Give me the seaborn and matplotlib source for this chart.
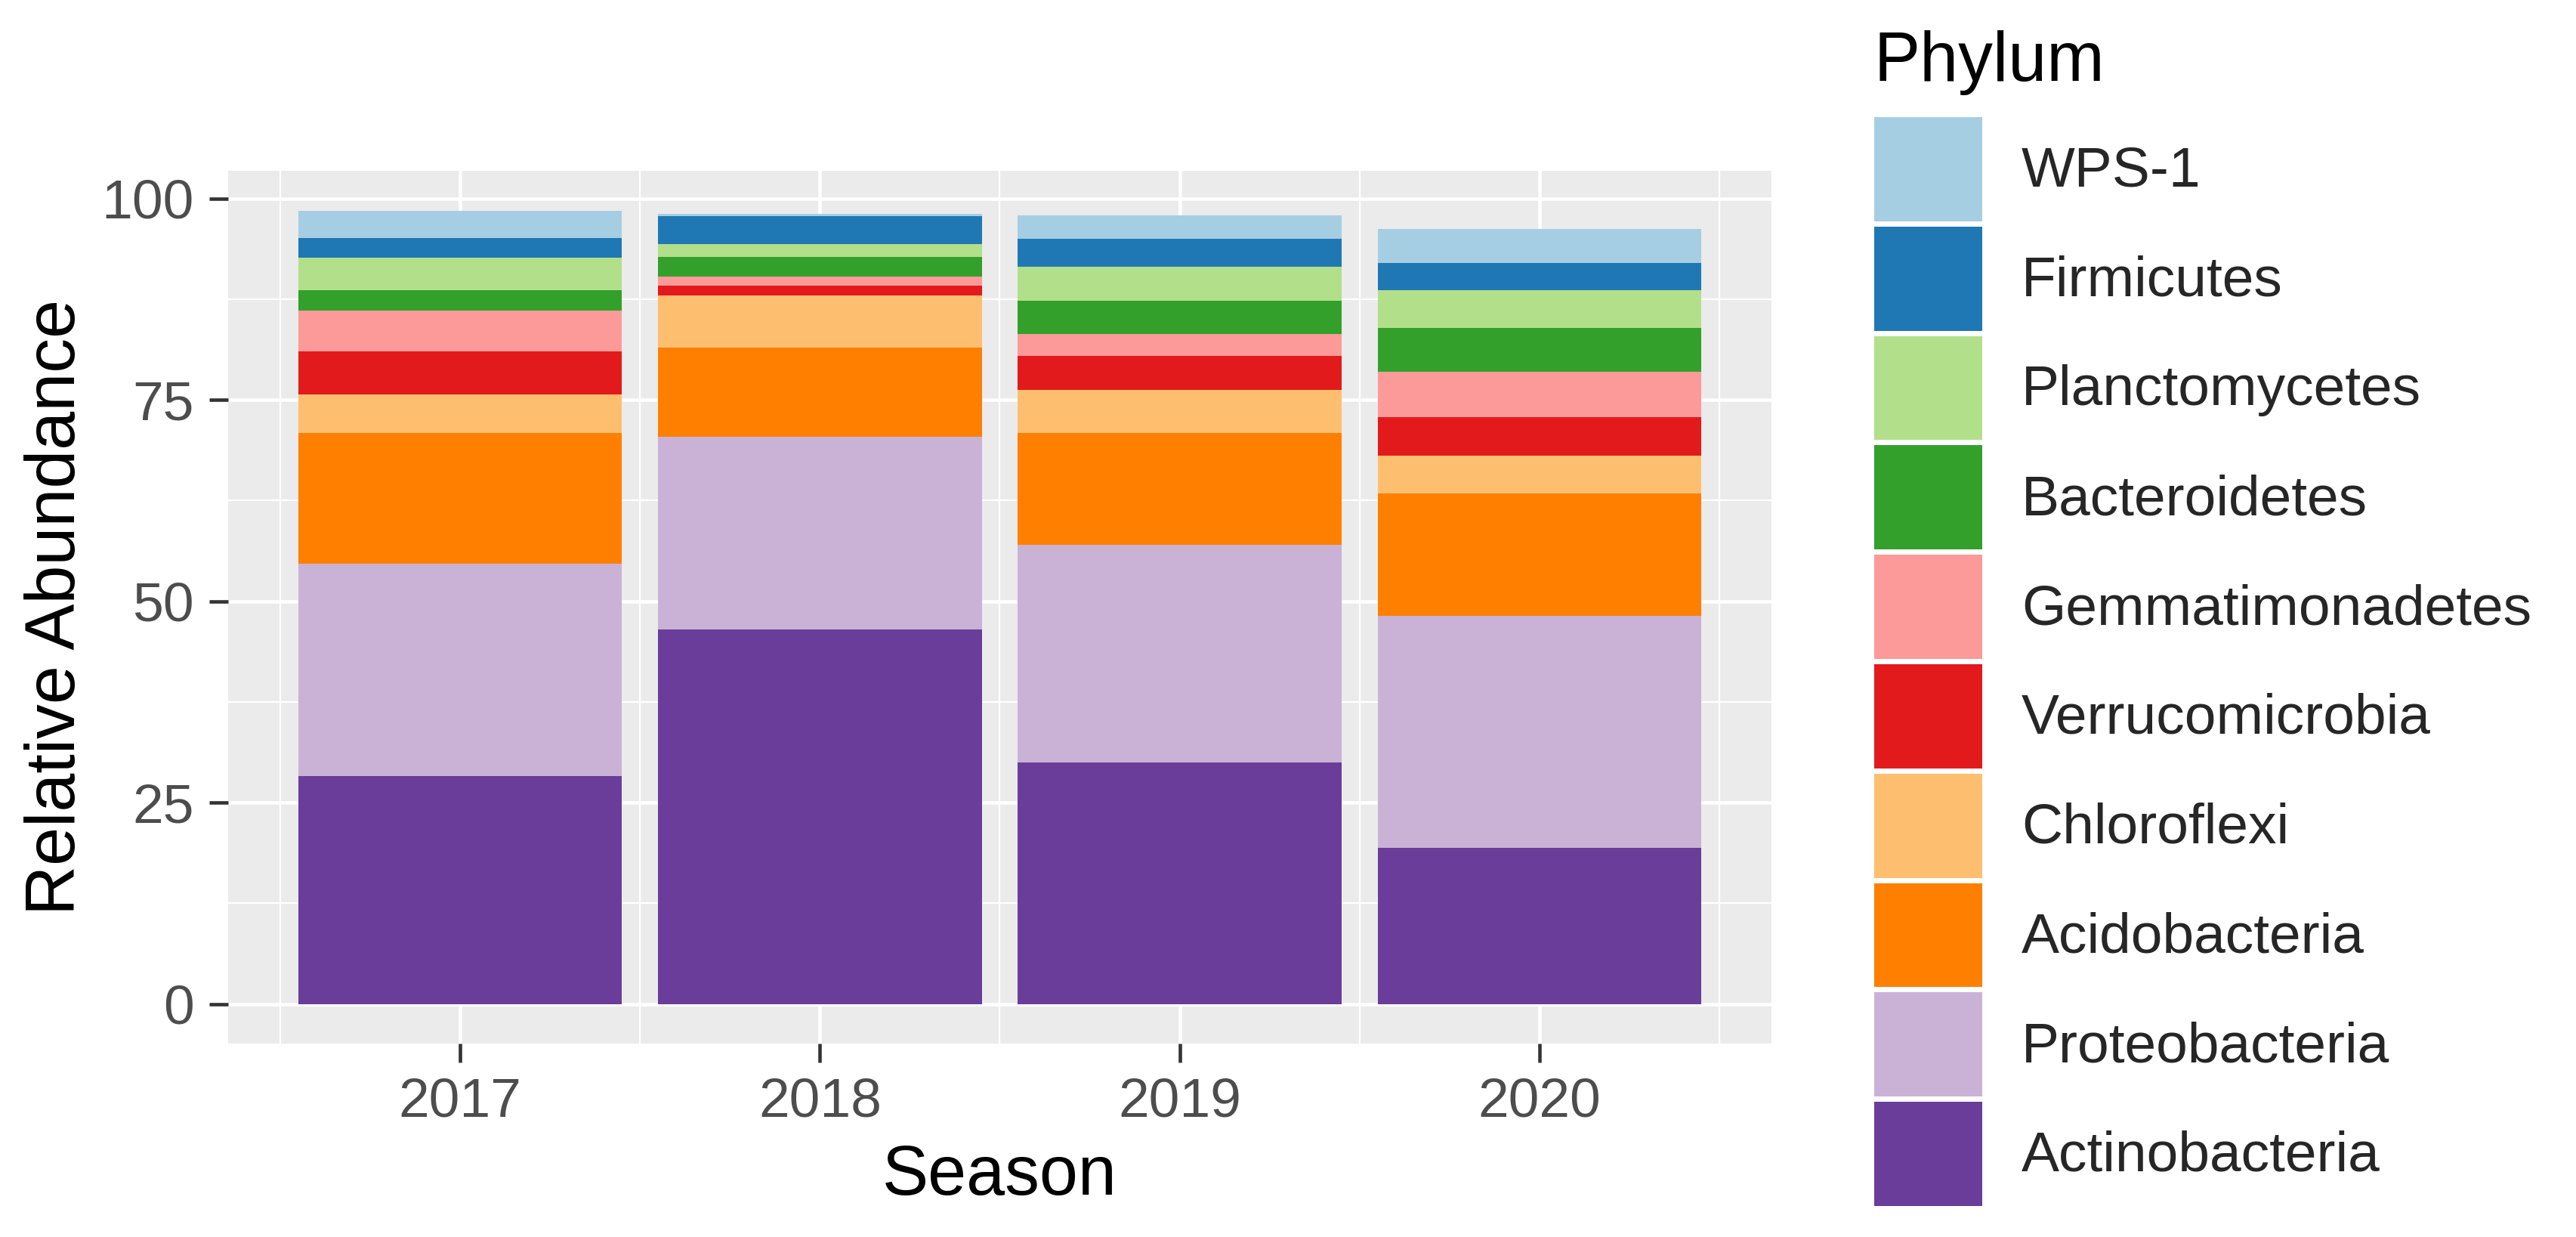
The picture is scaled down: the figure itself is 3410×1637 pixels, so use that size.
import numpy as np
import pandas as pd
import matplotlib
matplotlib.use("Agg")
import matplotlib.pyplot as plt
import seaborn as sns
from matplotlib.patches import Patch
from matplotlib.ticker import FixedLocator

sns.set_theme(style="white")
plt.rcParams["font.family"] = ["Liberation Sans", "DejaVu Sans"]

# data (relative abundance, %)
seasons = ["2017", "2018", "2019", "2020"]

actinobacteria = [28.3, 46.5, 30.0, 19.4]
proteobacteria = [26.3, 23.9, 27.0, 28.8]
acidobacteria = [16.3, 11.1, 13.9, 15.2]
chloroflexi = [4.8, 6.4, 5.3, 4.7]
verrucomicrobia = [5.3, 1.3, 4.2, 4.7]
gemmatimonadetes = [5.1, 1.1, 2.8, 5.7]
bacteroidetes = [2.5, 2.4, 4.1, 5.4]
planctomycetes = [4.0, 1.6, 4.2, 4.7]
firmicutes = [2.5, 3.5, 3.5, 3.4]
wps1 = [3.4, 0.3, 2.9, 4.2]

# bottom -> top of each stack
phyla = ["Actinobacteria", "Proteobacteria", "Acidobacteria", "Chloroflexi",
         "Verrucomicrobia", "Gemmatimonadetes", "Bacteroidetes",
         "Planctomycetes", "Firmicutes", "WPS-1"]
values = [actinobacteria, proteobacteria, acidobacteria, chloroflexi,
          verrucomicrobia, gemmatimonadetes, bacteroidetes, planctomycetes,
          firmicutes, wps1]
colors = ["#6A3D9A", "#CAB2D6", "#FF7F00", "#FDBF6F", "#E31A1C",
          "#FB9A99", "#33A02C", "#B2DF8A", "#1F78B4", "#A6CEE3"]

df = pd.DataFrame({
    "Season": np.tile(seasons, len(phyla)),
    "Phylum": np.repeat(phyla, len(seasons)),
    "Abundance": np.concatenate(values),
})

W, H = 3411, 1637
fig = plt.figure(figsize=(W / 300, H / 300), dpi=300)
ax = fig.add_axes([302 / W, 1 - 1381 / H, (2345 - 302) / W, (1381 - 226) / H])
ax.set_facecolor("#EBEBEB")

# stacked bars, one barplot call per phylum
bottom = np.zeros(len(seasons))
for name, col in zip(phyla, colors):
    sub = df[df["Phylum"] == name]
    sns.barplot(data=sub, x="Season", y="Abundance", order=seasons,
                color=col, saturation=1, width=0.9, errorbar=None,
                bottom=bottom.copy(), linewidth=0, ax=ax)
    bottom += sub["Abundance"].values

# ggplot-like panel
top = bottom.max()
ax.set_ylim(-0.05 * top, 1.05 * top)
ax.set_xlim(-0.645, 3.645)
ax.set_yticks([0, 25, 50, 75, 100])
ax.yaxis.set_minor_locator(FixedLocator([12.5, 37.5, 62.5, 87.5]))
ax.set_xticks(range(len(seasons)))
ax.set_xticklabels(seasons)
ax.xaxis.set_minor_locator(FixedLocator([-0.5, 0.5, 1.5, 2.5, 3.5]))
ax.grid(True, which="major", color="white", linewidth=1.1)
ax.grid(True, which="minor", color="white", linewidth=0.55)
ax.set_axisbelow(True)
for s in ax.spines.values():
    s.set_visible(False)

ax.tick_params(axis="both", which="major", length=6, width=1.1,
               color="#333333", labelcolor="#4D4D4D", labelsize=17.6,
               pad=4.8, bottom=True, left=True)
ax.tick_params(axis="both", which="minor", length=0)

ax.set_xlabel("Season", fontsize=22, color="black", labelpad=5)
ax.set_ylabel("Relative Abundance", fontsize=22, color="black", labelpad=4)

# legend, top entry first
handles = [Patch(facecolor=c, edgecolor="none") for c in colors[::-1]]
fig.legend(handles, phyla[::-1], loc="upper left",
           bbox_to_anchor=(2481 / W, 1 - 155 / H), frameon=False,
           fontsize=18, handlelength=1.91, handleheight=2.45,
           labelspacing=0.093, handletextpad=0.69,
           borderaxespad=0, borderpad=0)
fig.text(2481 / W, 1 - 107 / H, "Phylum", fontsize=22, color="black",
         ha="left", va="baseline")

fig.savefig("out.png", dpi=300)
